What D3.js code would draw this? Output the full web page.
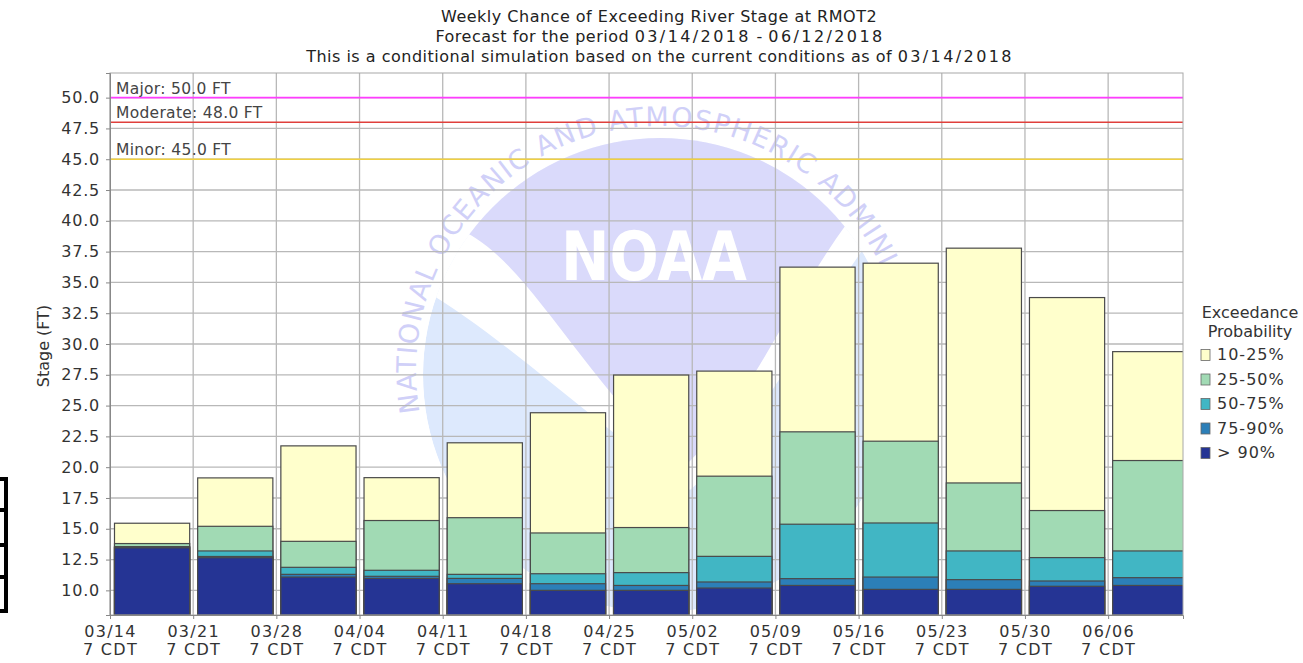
<!DOCTYPE html>
<html><head><meta charset="utf-8">
<script src="https://cdn.jsdelivr.net/npm/d3@7"></script>
<style>
body{margin:0;background:#fff;}
svg{display:block;font-family:"DejaVu Sans",sans-serif;}
</style>
</head><body>
<svg id="chart" width="1303" height="663"></svg>
<script>
// ---------- DATA ----------
const weeks = ["03/14","03/21","03/28","04/04","04/11","04/18","04/25","05/02","05/09","05/16","05/23","05/30","06/06"];
const weekSub = "7 CDT";
// stage (FT) exceeded at each probability band (top of each band)
const p10_25 = [15.45, 19.13, 21.73, 19.15, 21.98, 24.42, 27.48, 27.80, 36.24, 36.56, 37.78, 33.77, 29.38];
const p25_50 = [13.80, 15.20, 13.98, 15.67, 15.90, 14.66, 15.10, 19.27, 22.87, 22.11, 18.72, 16.48, 20.54];
const p50_75 = [13.55, 13.20, 11.87, 11.63, 11.30, 11.35, 11.44, 12.76, 15.37, 15.47, 13.20, 12.66, 13.20];
const p75_90 = [13.50, 12.75, 11.30, 11.14, 10.97, 10.54, 10.40, 10.68, 10.95, 11.08, 10.87, 10.76, 11.03];
const p90    = [13.45, 12.65, 11.08, 10.97, 10.54, 10.00, 10.00, 10.19, 10.40, 10.08, 10.08, 10.33, 10.40];
const seriesNames = ["10-25%","25-50%","50-75%","75-90%","> 90%"];
const seriesColors = ["#ffffcc","#a1dab4","#41b6c4","#2c7fb8","#253494"];
const floodNames = ["Major","Moderate","Minor"];
const floodStages = [50.0, 48.0, 45.0];
const floodColors = ["#ff3cff","#e0403c","#f0d040"];
const yTicks = [10,12.5,15,17.5,20,22.5,25,27.5,30,32.5,35,37.5,40,42.5,45,47.5,50];
const titleLines = [
  "Weekly Chance of Exceeding River Stage at RMOT2",
  "Forecast for the period 03/14/2018 - 06/12/2018",
  "This is a conditional simulation based on the current conditions as of 03/14/2018"
];
const yLabel = "Stage (FT)";
const legendTitle = ["Exceedance","Probability"];
const ringWords = ["NATIONAL","OCEANIC","AND","ATMOSPHERIC","ADMINISTRATION"];
const logoText = "NOAA";

// ---------- LAYOUT ----------
const svg = d3.select("#chart");
const P = {l:110, r:1183, t:73, b:615};
const x = d3.scaleLinear().domain([0, 12.9]).range([P.l, P.r]);
const y = d3.scaleLinear().domain([8, 52]).range([P.b, P.t]);
const series = [p10_25, p25_50, p50_75, p75_90, p90];

svg.append("rect").attr("width",1303).attr("height",663).attr("fill","#fff");

const defs = svg.append("defs");
defs.append("clipPath").attr("id","plotclip").append("rect")
  .attr("x",P.l).attr("y",P.t).attr("width",P.r-P.l).attr("height",P.b-P.t);
const cx = 660, cy = 375, cr = 237;
defs.append("clipPath").attr("id","emb").append("circle").attr("cx",cx).attr("cy",cy).attr("r",cr);

// ---------- WATERMARK ----------
const wm = svg.append("g").attr("clip-path","url(#plotclip)");
const emb = wm.append("g").attr("clip-path","url(#emb)");
emb.append("circle").attr("cx",cx).attr("cy",cy).attr("r",cr).attr("fill","#dde9fd");
const p = (dx,dy)=>`${cx+dx},${cy+dy}`;
emb.append("path").attr("fill","#ffffff")
  .attr("d",`M${p(-245,-90)} C${p(-170,-50)} ${p(-70,45)} ${p(30,115)} C${p(100,55)} ${p(150,-55)} ${p(210,-135)} L${p(260,-300)} L${p(-260,-300)} Z`);
emb.append("path").attr("fill","#dadafb")
  .attr("d",`M${p(-205,-147)} C${p(-140,-125)} ${p(-90,-15)} ${p(20,95)} C${p(80,45)} ${p(130,-75)} ${p(188,-153)} L${p(240,-275)} L${p(-240,-275)} Z`);
wm.append("text").attr("x",561).attr("y",280).attr("font-size",68).attr("font-weight","bold")
  .attr("fill","#fff").attr("textLength",186).attr("lengthAdjust","spacingAndGlyphs").text(logoText);
// ring text, one word per text element along the same arc
const rr = 244, rcx = 660, rcy = 370, a0 = 170*Math.PI/180;
const sx = rcx + rr*Math.cos(a0), sy = rcy + rr*Math.sin(a0);
const ox = rcx - rr*Math.cos(a0), oy = rcy - rr*Math.sin(a0);
defs.append("path").attr("id","ring")
  .attr("d",`M${sx},${sy} A${rr},${rr} 0 0 1 ${ox},${oy} A${rr},${rr} 0 0 1 ${sx},${sy}`);
const ringFont = {size:27, ls:1.5};
const meas = svg.append("text").attr("font-size",ringFont.size).attr("letter-spacing",ringFont.ls)
  .attr("visibility","hidden");
const mlen = s => { meas.text(s); return meas.node().getComputedTextLength(); };
const spaceW = mlen("N N") - mlen("NN");
let offset = 0;
ringWords.forEach((w,i)=>{
  wm.append("text").attr("font-size",ringFont.size).attr("fill","#d0d0f8")
    .attr("letter-spacing",ringFont.ls)
    .append("textPath").attr("href","#ring").attr("startOffset",offset).text(w);
  offset += mlen(w) + spaceW;
});
meas.remove();

// ---------- GRID ----------
const grid = svg.append("g").attr("stroke","#b8b8b8").attr("stroke-width",1.3);
grid.selectAll("line.h").data(yTicks).join("line")
  .attr("x1",P.l).attr("x2",P.r).attr("y1",d=>y(d)).attr("y2",d=>y(d));
grid.selectAll("line.v").data(d3.range(weeks.length)).join("line")
  .attr("x1",d=>x(d)).attr("x2",d=>x(d)).attr("y1",P.t).attr("y2",P.b);

// ---------- FLOOD LINES ----------
const fl = svg.append("g");
floodStages.forEach((s,i)=>{
  fl.append("line").attr("x1",P.l).attr("x2",P.r).attr("y1",y(s)).attr("y2",y(s))
    .attr("stroke",floodColors[i]).attr("stroke-width",1.6);
  fl.append("text").attr("x",P.l+6).attr("y",y(s)-4).attr("font-size",15.5).attr("fill","#444")
    .attr("letter-spacing",0.3)
    .text(`${floodNames[i]}: ${s.toFixed(1)} FT`);
});

// ---------- BARS ----------
const bars = svg.append("g").attr("clip-path","url(#plotclip)");
series.forEach((vals,si)=>{
  bars.selectAll(null).data(vals).join("rect")
    .attr("x",(d,i)=>x(i)+4.5)
    .attr("width",(d,i)=>x(i+1)-3.5-(x(i)+4.5))
    .attr("y",d=>y(d))
    .attr("height",d=>y(8)-y(d))
    .attr("fill",seriesColors[si])
    .attr("stroke","#4a4a4a").attr("stroke-width",1.2);
});

// ---------- AXES ----------
svg.append("rect").attr("x",P.l).attr("y",P.t).attr("width",P.r-P.l).attr("height",P.b-P.t)
  .attr("fill","none").attr("stroke","#a8a8a8").attr("stroke-width",1);
const ya = svg.append("g").attr("transform",`translate(${P.l},0)`)
  .call(d3.axisLeft(y).tickValues(yTicks).tickFormat(d3.format(".1f")).tickSize(4).tickPadding(6));
ya.select(".domain").attr("stroke","#888");
ya.selectAll(".tick line").attr("stroke","#888");
ya.selectAll("text").attr("font-size",16).attr("fill","#333").attr("letter-spacing",0.8)
  .attr("font-family","DejaVu Sans");

const xa = svg.append("g").attr("transform",`translate(0,${P.b})`)
  .call(d3.axisBottom(x).tickValues(d3.range(weeks.length)).tickFormat(i=>weeks[i]).tickSize(4));
xa.select(".domain").attr("stroke","#888");
xa.selectAll(".tick line").attr("stroke","#888");
xa.selectAll(".tick text").each(function(i){
  const t = d3.select(this);
  t.text(null).attr("y",0).attr("dy",null).attr("font-size",16).attr("fill","#333")
   .attr("font-family","DejaVu Sans").attr("letter-spacing",1.3);
  t.append("tspan").attr("x",0).attr("y",22).text(weeks[i]);
  t.append("tspan").attr("x",0).attr("y",40).text(weekSub);
});

svg.append("text").attr("transform","translate(49,346) rotate(-90)").attr("text-anchor","middle")
  .attr("font-size",16).attr("fill","#333").text(yLabel);

// ---------- TITLE ----------
titleLines.forEach((line,li)=>{
  const t = svg.append("text").attr("x",660).attr("y",22+li*20).attr("text-anchor","middle")
    .attr("font-size",16).attr("fill","#222").attr("letter-spacing",0.5);
  line.split(/([0-9\/]+)/).filter(s=>s.length).forEach(seg=>{
    const isNum = /^[0-9\/]+$/.test(seg);
    t.append("tspan").attr("letter-spacing",isNum?2.4:0.5).text(seg);
  });
});

// ---------- LEGEND ----------
const lg = svg.append("g");
legendTitle.forEach((t,i)=>lg.append("text").attr("x",1250).attr("y",318+i*19.3)
  .attr("text-anchor","middle").attr("font-size",16).attr("fill","#333").text(t));
seriesNames.forEach((n,i)=>{
  const by = 360 + i*24.5;
  lg.append("rect").attr("x",1201).attr("y",by-10.5).attr("width",9).attr("height",11)
    .attr("fill",seriesColors[i]).attr("stroke","#666").attr("stroke-width",0.8);
  lg.append("text").attr("x",1217).attr("y",by).attr("font-size",16).attr("fill","#333")
    .attr("letter-spacing",1).text(n);
});

// ---------- LEFT EDGE BOXES ----------
const bx = svg.append("g").attr("fill","none").attr("stroke","#000").attr("stroke-width",4);
[[479,510],[510,545],[545,577],[577,611]].forEach(([a,b])=>{
  bx.append("rect").attr("x",-20).attr("y",a).attr("width",26).attr("height",b-a);
});
</script>
</body></html>
